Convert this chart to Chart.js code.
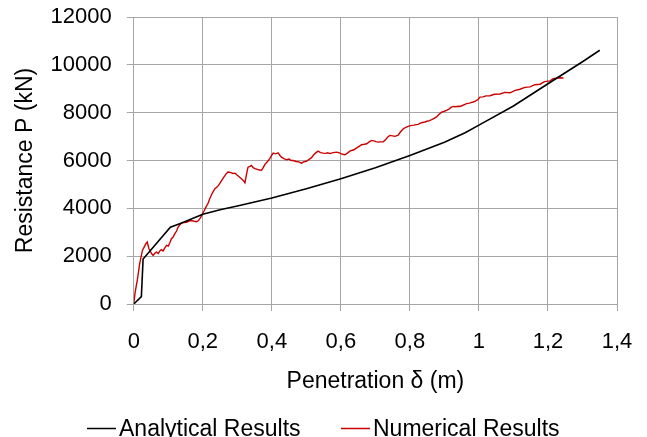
<!DOCTYPE html>
<html>
<head>
<meta charset="utf-8">
<script src="https://cdn.jsdelivr.net/npm/chart.js@4/dist/chart.umd.min.js"></script>
<style>
  html, body { margin: 0; padding: 0; background: #fff; }
  #wrap { position: relative; width: 647px; height: 437px; }
</style>
</head>
<body>
<div id="wrap"><canvas id="penChart"></canvas></div>
<script>
// analytical curve (penetration m, resistance kN)
const analyticalX = [0, 0.022, 0.027, 0.106, 0.133, 0.2, 0.25, 0.3, 0.4, 0.5,
  0.6, 0.7, 0.8, 0.9, 0.96, 1.0, 1.1, 1.2, 1.3, 1.35];
const analyticalY = [0, 310, 1880, 3210, 3360, 3750, 3940, 4100, 4430, 4820,
  5240, 5700, 6210, 6760, 7160, 7480, 8280, 9210, 10130, 10610];

// numerical curve
const numericalX = [
  0, 0.004, 0.01, 0.017, 0.025, 0.03, 0.035, 0.039, 0.044, 0.048,
  0.052, 0.056, 0.061, 0.066, 0.071, 0.076, 0.08, 0.085, 0.09, 0.095,
  0.1, 0.105, 0.109, 0.114, 0.119, 0.124, 0.128, 0.133, 0.138, 0.145,
  0.153, 0.16, 0.167, 0.175, 0.182, 0.187, 0.191, 0.195, 0.199, 0.204,
  0.209, 0.215, 0.22, 0.228, 0.235, 0.242, 0.249, 0.256, 0.262, 0.268,
  0.273, 0.28, 0.287, 0.293, 0.3, 0.307, 0.315, 0.322, 0.327, 0.331,
  0.336, 0.341, 0.346, 0.351, 0.358, 0.364, 0.37, 0.375, 0.38, 0.387,
  0.394, 0.399, 0.404, 0.411, 0.418, 0.423, 0.428, 0.435, 0.443, 0.45,
  0.456, 0.462, 0.47, 0.478, 0.486, 0.493, 0.5, 0.508, 0.515, 0.522,
  0.529, 0.534, 0.541, 0.549, 0.556, 0.562, 0.568, 0.575, 0.582, 0.588,
  0.593, 0.597, 0.605, 0.612, 0.62, 0.626, 0.631, 0.638, 0.646, 0.653,
  0.66, 0.668, 0.675, 0.682, 0.689, 0.695, 0.702, 0.708, 0.715, 0.723,
  0.73, 0.736, 0.742, 0.75, 0.757, 0.762, 0.766, 0.773, 0.781, 0.79,
  0.797, 0.805, 0.812, 0.818, 0.824, 0.83, 0.837, 0.843, 0.85, 0.857,
  0.863, 0.87, 0.877, 0.884, 0.892, 0.9, 0.906, 0.913, 0.92, 0.926,
  0.933, 0.94, 0.945, 0.952, 0.958, 0.964, 0.972, 0.977, 0.983, 0.99,
  0.998, 1.003, 1.012, 1.02, 1.032, 1.045, 1.061, 1.075, 1.09, 1.105,
  1.119, 1.133, 1.148, 1.162, 1.177, 1.19, 1.206, 1.215, 1.225, 1.235, 1.245
];
const numericalY = [
  30, 500, 980, 1680, 2240, 2380, 2520, 2590, 2310, 2200,
  2100, 2030, 2120, 2170, 2110, 2230, 2270, 2220, 2350, 2450,
  2420, 2580, 2730, 2800, 2940, 3050, 3210, 3300, 3380, 3400,
  3420, 3470, 3490, 3460, 3440, 3480, 3560, 3650, 3770, 3900,
  4050, 4200, 4400, 4650, 4820, 4900, 5030, 5200, 5330, 5450,
  5515, 5500, 5460, 5470, 5380, 5300, 5200, 5070, 5450, 5720,
  5750, 5790, 5700, 5660, 5630, 5600, 5590, 5700, 5840, 5950,
  6080, 6200, 6310, 6280, 6320, 6220, 6140, 6080, 6030, 6060,
  6000, 6000, 5960, 5940, 5890, 5950, 5970, 6050, 6120, 6250,
  6340, 6390, 6330, 6310, 6300, 6320, 6290, 6320, 6340, 6350,
  6330, 6310, 6260, 6240, 6320, 6390, 6420, 6450, 6530, 6590,
  6660, 6680, 6700, 6780, 6840, 6820, 6790, 6770, 6780, 6780,
  6880, 6980, 7050, 7030, 7010, 7040, 7060, 7200, 7330, 7400,
  7440, 7470, 7480, 7500, 7510, 7560, 7590, 7610, 7640, 7670,
  7710, 7760, 7820, 7920, 8020, 8060, 8100, 8150, 8230, 8260,
  8250, 8270, 8260, 8300, 8340, 8380, 8400, 8420, 8445, 8480,
  8560, 8650, 8660, 8700, 8710, 8770, 8780, 8850, 8830, 8930,
  8980, 9060, 9080, 9170, 9190, 9300, 9330, 9420, 9440, 9460, 9450
];

const xTicks = [0, 0.2, 0.4, 0.6, 0.8, 1, 1.2, 1.4];
const yTicks = [0, 2000, 4000, 6000, 8000, 10000, 12000];

const gridColor = '#a6a6a6';
Chart.defaults.font.family = "'Liberation Sans', Arial, sans-serif";
Chart.defaults.color = '#000';

// small legend drawn under the axis title, line + label
const bottomLegend = {
  id: 'bottomLegend',
  afterDraw(chart) {
    const ctx = chart.ctx;
    const spots = [87, 341];
    ctx.save();
    ctx.font = "23px 'Liberation Sans', Arial, sans-serif";
    ctx.textBaseline = 'alphabetic';
    ctx.fillStyle = '#000';
    chart.data.datasets.forEach((ds, i) => {
      const x = spots[i];
      ctx.strokeStyle = ds.borderColor;
      ctx.lineWidth = 1.5;
      ctx.beginPath();
      ctx.moveTo(x, 428.5);
      ctx.lineTo(x + 29, 428.5);
      ctx.stroke();
      ctx.fillText(ds.label, x + 32, 436);
    });
    ctx.restore();
  }
};

const toPoints = (xs, ys) => xs.map((x, i) => ({ x: x, y: ys[i] }));

new Chart(document.getElementById('penChart'), {
  type: 'line',
  data: {
    datasets: [{
      label: 'Analytical Results',
      data: toPoints(analyticalX, analyticalY),
      borderColor: '#000000',
      borderWidth: 1.6,
      pointRadius: 0,
      tension: 0
    }, {
      label: 'Numerical Results',
      data: toPoints(numericalX, numericalY),
      borderColor: '#cc0000',
      borderWidth: 1.4,
      pointRadius: 0,
      tension: 0
    }]
  },
  options: {
    responsive: true,
    maintainAspectRatio: false,
    animation: false,
    layout: { padding: { left: 12, right: 30, top: 17, bottom: 42 } },
    plugins: {
      legend: { display: false },
      tooltip: { enabled: false }
    },
    scales: {
      x: {
        type: 'linear',
        min: 0,
        max: 1.4,
        afterBuildTicks: (axis) => { axis.ticks = xTicks.map(v => ({ value: v })); },
        afterFit: (axis) => { axis.paddingRight = 0; },
        ticks: {
          padding: 18,
          font: { size: 22 },
          callback: (v) => String(Number(v.toFixed(1))).replace('.', ',')
        },
        grid: { color: gridColor, tickLength: 7 },
        border: { color: gridColor },
        title: {
          display: true,
          text: 'Penetration δ (m)',
          font: { size: 23 },
          padding: { top: -6, bottom: 0 }
        }
      },
      y: {
        min: 0,
        max: 12000,
        afterBuildTicks: (axis) => { axis.ticks = yTicks.map(v => ({ value: v })); },
        afterFit: (axis) => { axis.paddingTop = 0; axis.paddingBottom = 0; },
        ticks: { padding: 15, font: { size: 22 }, callback: (v) => String(v) },
        grid: { color: gridColor, tickLength: 7 },
        border: { color: gridColor },
        title: {
          display: true,
          text: 'Resistance P (kN)',
          font: { size: 23 },
          padding: { top: 0, bottom: -4 }
        }
      }
    }
  },
  plugins: [bottomLegend]
});
</script>
</body>
</html>
